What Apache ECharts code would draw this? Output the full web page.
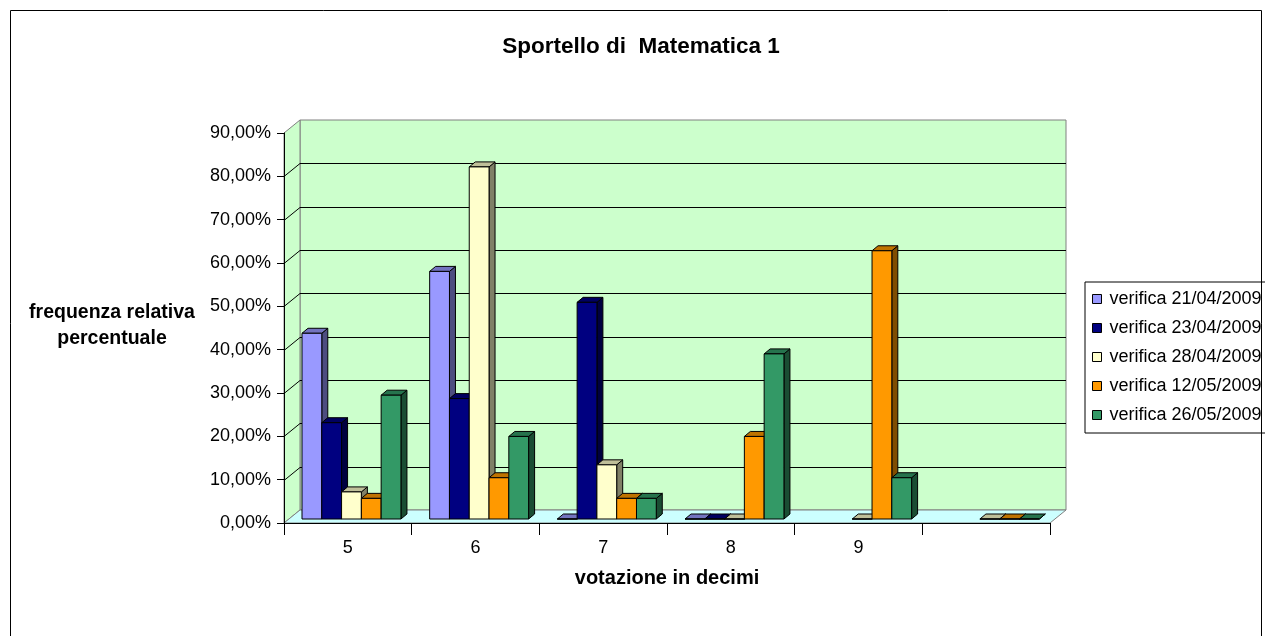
<!DOCTYPE html>
<html>
<head>
<meta charset="utf-8">
<title>Sportello di Matematica 1</title>
<script src="https://cdn.jsdelivr.net/npm/echarts@6.0.0/dist/echarts.min.js"></script>
<style>
  html, body { margin: 0; padding: 0; background: #fff; }
  #main { width: 1265px; height: 636px; }
</style>
</head>
<body>
<div id="main"></div>
<script>
// dati (percentuali)
var categories = ['5', '6', '7', '8', '9', ''];
var seriesNames = ['verifica 21/04/2009', 'verifica 23/04/2009', 'verifica 28/04/2009', 'verifica 12/05/2009', 'verifica 26/05/2009'];
var v21_04 = [42.86, 57.14, 0, 0, null, null];
var v23_04 = [22.22, 27.78, 50, 0, null, null];
var v28_04 = [6.25, 81.25, 12.5, 0, 0, 0];
var v12_05 = [4.76, 9.52, 4.76, 19.05, 61.9, 0];
var v26_05 = [28.57, 19.05, 4.76, 38.1, 9.52, 0];
var yTicks = [0, 10, 20, 30, 40, 50, 60, 70, 80, 90];

var seriesValues = [v21_04, v23_04, v28_04, v12_05, v26_05];
var colors = ['#9999FF', '#000080', '#FFFFCC', '#FF9900', '#339966'];
var FONT = 'Arial, "Liberation Sans", sans-serif';
var DEPTH_X = 16, DEPTH_Y = -13;   // profondita pareti
var BAR_DX = 6, BAR_DY = -5;       // profondita barre

function shade(hex, k) {
    var n = parseInt(hex.slice(1), 16);
    var r = (n >> 16) & 255, g = (n >> 8) & 255, b = n & 255;
    return 'rgb(' + Math.round(r * k) + ',' + Math.round(g * k) + ',' + Math.round(b * k) + ')';
}

function renderWalls(params, api) {
    var cs = params.coordSys;
    var x = cs.x, y = cs.y, w = cs.width, h = cs.height;
    var dx = DEPTH_X, dy = DEPTH_Y;
    var wallStyle = { fill: '#CCFFCC', stroke: '#808080', lineWidth: 1 };
    var children = [
        { type: 'polygon', shape: { points: [[x + dx, y + dy], [x + w + dx, y + dy], [x + w + dx, y + h + dy], [x + dx, y + h + dy]] }, style: wallStyle },
        { type: 'polygon', shape: { points: [[x, y], [x + dx, y + dy], [x + dx, y + h + dy], [x, y + h]] }, style: wallStyle },
        { type: 'polygon', shape: { points: [[x, y + h], [x + dx, y + h + dy], [x + w + dx, y + h + dy], [x + w, y + h]] }, style: { fill: '#CCFFFF', stroke: '#808080', lineWidth: 1 } }
    ];
    for (var i = 1; i < yTicks.length - 1; i++) {
        var yy = Math.round(api.coord([0, yTicks[i]])[1]) + 0.5;
        children.push({
            type: 'polyline',
            shape: { points: [[x, yy], [x + dx, yy + dy], [x + w + dx, yy + dy]] },
            style: { stroke: '#000', lineWidth: 1, fill: null }
        });
    }
    return { type: 'group', children: children };
}

function makeBarRender(si) {
    var c = colors[si];
    return function (params, api) {
        var cat = api.value(0), val = api.value(1);
        var bw = api.size([1, 0])[0];
        var base = api.coord([cat, 0]);
        var top = api.coord([cat, val]);
        var w = bw * 0.155;
        var x0 = base[0] - bw / 2 + bw * 0.141 + si * w;
        var yb = base[1] - 4, yt = top[1] - 4;
        var dx = BAR_DX, dy = BAR_DY;
        var line = { stroke: '#000', lineWidth: 1 };
        return {
            type: 'group',
            children: [
                { type: 'polygon', shape: { points: [[x0 + w, yt], [x0 + w + dx, yt + dy], [x0 + w + dx, yb + dy], [x0 + w, yb]] },
                  style: echarts.util.extend({ fill: shade(c, 0.5) }, line) },
                { type: 'polygon', shape: { points: [[x0, yt], [x0 + dx, yt + dy], [x0 + w + dx, yt + dy], [x0 + w, yt]] },
                  style: echarts.util.extend({ fill: shade(c, 0.75) }, line) },
                { type: 'rect', shape: { x: x0, y: yt, width: w, height: yb - yt },
                  style: echarts.util.extend({ fill: c }, line) }
            ]
        };
    };
}

var series = [{
    name: 'pareti',
    type: 'custom',
    silent: true,
    z: 1,
    renderItem: renderWalls,
    data: [[0, 0]],
    encode: { x: 0, y: 1 }
}];
for (var s = 0; s < seriesValues.length; s++) {
    var pts = [];
    for (var i = 0; i < categories.length; i++) {
        if (seriesValues[s][i] !== null) pts.push([i, seriesValues[s][i]]);
    }
    series.push({
        name: seriesNames[s],
        type: 'custom',
        z: 2,
        itemStyle: { color: colors[s] },
        renderItem: makeBarRender(s),
        data: pts,
        encode: { x: 0, y: 1 }
    });
}

var option = {
    animation: false,
    backgroundColor: '#fff',
    grid: { left: 284, top: 133, width: 766, height: 390 },
    legend: {
        orient: 'vertical',
        left: 1085,
        top: 282,
        padding: [8, 16, 9, 7],
        itemGap: 11,
        itemWidth: 9,
        itemHeight: 9,
        icon: 'rect',
        borderColor: '#000',
        borderWidth: 1,
        data: seriesNames,
        itemStyle: { borderColor: '#000', borderWidth: 1 },
        textStyle: { fontFamily: FONT, fontSize: 18, color: '#000', padding: [0, 0, 0, 3] }
    },
    xAxis: {
        type: 'category',
        data: categories,
        z: 10,
        axisLine: { lineStyle: { color: '#000', width: 1 } },
        axisTick: { show: true, length: 12, lineStyle: { color: '#000' } },
        axisLabel: { fontFamily: FONT, fontSize: 18, color: '#000', margin: 16 },
        splitLine: { show: false }
    },
    yAxis: {
        type: 'value',
        min: 0,
        max: 90,
        interval: 10,
        z: 10,
        axisLine: { show: true, lineStyle: { color: '#000', width: 1 } },
        axisTick: { show: true, length: 7, lineStyle: { color: '#000' } },
        axisLabel: {
            fontFamily: FONT, fontSize: 18, color: '#000', margin: 13,
            formatter: function (v) { return v.toFixed(2).replace('.', ',') + '%'; }
        },
        splitLine: { show: false }
    },
    graphic: [
        { type: 'rect', z: 100, silent: true, shape: { x: 10.5, y: 10.5, width: 1251, height: 700 }, style: { fill: null, stroke: '#000', lineWidth: 1 } },
        { type: 'text', x: 641, y: 47, style: { text: 'Sportello di  Matematica 1', font: 'bold 22.5px ' + FONT, fill: '#000', textAlign: 'center', textVerticalAlign: 'middle' } },
        { type: 'text', x: 112, y: 326, style: { text: 'frequenza relativa\npercentuale', font: 'bold 19.5px ' + FONT, lineHeight: 26, fill: '#000', textAlign: 'center', textVerticalAlign: 'middle' } },
        { type: 'text', x: 667, y: 578, style: { text: 'votazione in decimi', font: 'bold 20px ' + FONT, fill: '#000', textAlign: 'center', textVerticalAlign: 'middle' } }
    ],
    series: series
};

var chart = echarts.init(document.getElementById('main'));
chart.setOption(option);
</script>
</body>
</html>
